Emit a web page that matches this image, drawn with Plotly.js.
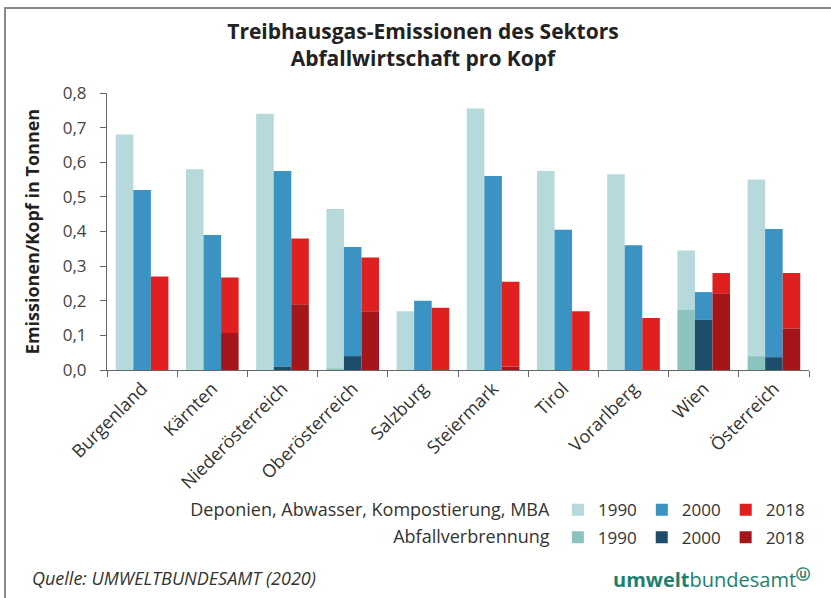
<!DOCTYPE html>
<html>
<head>
<meta charset="utf-8">
<script src="https://cdn.plot.ly/plotly-3.0.1.min.js"></script>
<style>html,body{margin:0;padding:0;background:#fff;}#chart{width:831px;height:598px;}</style>
</head>
<body>
<div id="chart"></div>
<script>
// Categories (Bundesländer)
const categories = ['Burgenland','Kärnten','Niederösterreich','Oberösterreich','Salzburg','Steiermark','Tirol','Vorarlberg','Wien','Österreich'];
// Deponien, Abwasser, Kompostierung, MBA (t/Kopf)
const dep1990 = [0.68, 0.58, 0.74, 0.46, 0.17, 0.755, 0.575, 0.565, 0.17, 0.51];
const dep2000 = [0.52, 0.39, 0.565, 0.315, 0.20, 0.56, 0.405, 0.36, 0.08, 0.37];
const dep2018 = [0.27, 0.16, 0.19, 0.155, 0.18, 0.245, 0.17, 0.15, 0.06, 0.16];
// Abfallverbrennung (t/Kopf)
const av1990 = [0, 0, 0, 0.005, 0, 0, 0, 0, 0.175, 0.04];
const av2000 = [0, 0, 0.01, 0.04, 0, 0, 0, 0, 0.145, 0.037];
const av2018 = [0, 0.107, 0.19, 0.17, 0, 0.01, 0, 0, 0.22, 0.12];
const years = ['1990', '2000', '2018'];
const yTicks = [0, 0.1, 0.2, 0.3, 0.4, 0.5, 0.6, 0.7, 0.8];

const depCols = ['#b6d9db', '#3a93c3', '#e0201f'];
const avCols = ['#8cc3bf', '#1e4d6b', '#a5161b'];
const depSeries = [dep1990, dep2000, dep2018];
const avSeries = [av1990, av2000, av2018];

const traces = [];
years.forEach((yr, i) => {
  traces.push({
    type: 'bar', x: categories, y: depSeries[i], base: avSeries[i],
    name: yr, offsetgroup: yr, legend: 'legend',
    marker: {color: depCols[i], line: {width: 0}}
  });
});
years.forEach((yr, i) => {
  traces.push({
    type: 'bar', x: categories, y: avSeries[i],
    name: yr, offsetgroup: yr, legend: 'legend2',
    marker: {color: avCols[i], line: {width: 0}}
  });
});

const font = "'Open Sans', 'Noto Sans', sans-serif";
const L = 107, R = 809, T = 93, B = 370;
const PX = (px) => (px - L) / (R - L);
const PY = (py) => (B - py) / (B - T);

const layout = {
  width: 831, height: 598,
  margin: {l: L, r: 831 - R, t: T, b: 598 - B},
  paper_bgcolor: '#ffffff', plot_bgcolor: '#ffffff',
  font: {family: font, color: '#333'},
  separators: ', ',
  barmode: 'group', bargap: 0.25, bargroupgap: 0,
  title: {
    text: '<b>Treibhausgas-Emissionen des Sektors<br>Abfallwirtschaft pro Kopf</b>',
    font: {family: font, size: 21, color: '#222'},
    xref: 'container', x: 0.509, xanchor: 'center',
    yref: 'container', y: 0.935, yanchor: 'top'
  },
  xaxis: {
    type: 'category', showline: true, linecolor: '#666', linewidth: 1,
    ticks: 'outside', tickson: 'boundaries', ticklen: 6, tickcolor: '#666',
    tickangle: -45, tickfont: {family: font, size: 18, color: '#333'},
    showgrid: false, zeroline: false
  },
  yaxis: {
    range: [0, 0.8], tickvals: yTicks, tickformat: '.1f',
    showline: true, linecolor: '#666', linewidth: 1,
    ticks: 'outside', ticklen: 6, tickcolor: '#666', ticklabelstandoff: 10,
    tickfont: {family: font, size: 17, color: '#444'},
    showgrid: false, zeroline: false,
    title: {text: '<b>Emissionen/Kopf in Tonnen</b>', font: {family: font, size: 18, color: '#222'}, standoff: 18}
  },
  legend: {
    orientation: 'h', xref: 'container', x: 0.975, xanchor: 'right',
    yref: 'container', y: 0.177, yanchor: 'top',
    font: {family: font, size: 17, color: '#333'},
    title: {text: 'Deponien, Abwasser, Kompostierung, MBA', side: 'left', font: {family: font, size: 18, color: '#333'}},
    traceorder: 'normal', bgcolor: 'rgba(0,0,0,0)', itemclick: false
  },
  legend2: {
    orientation: 'h', xref: 'container', x: 0.975, xanchor: 'right',
    yref: 'container', y: 0.131, yanchor: 'top',
    font: {family: font, size: 17, color: '#333'},
    title: {text: 'Abfallverbrennung', side: 'left', font: {family: font, size: 18, color: '#333'}},
    traceorder: 'normal', bgcolor: 'rgba(0,0,0,0)', itemclick: false
  },
  annotations: [
    {text: '<i>Quelle: UMWELTBUNDESAMT (2020)</i>', xref: 'paper', yref: 'paper',
     x: PX(30), y: PY(578), xanchor: 'left', yanchor: 'middle', showarrow: false,
     font: {family: font, size: 18, color: '#333'}},
    {text: '<b>umwelt</b>bundesamt<sup><b>ⓤ</b></sup>', xref: 'paper', yref: 'paper',
     x: PX(812), y: PY(578), xanchor: 'right', yanchor: 'middle', showarrow: false,
     font: {family: font, size: 20, color: '#1d806f'}}
  ],
  shapes: [
    {type: 'path', xref: 'paper', yref: 'paper',
     path: 'M' + PX(5) + ',' + PY(600) + ' L' + PX(5) + ',' + PY(8) + ' L' + PX(833) + ',' + PY(8),
     line: {color: '#8a8a8a', width: 2}}
  ],
  showlegend: true
};

Plotly.newPlot('chart', traces, layout, {displayModeBar: false, staticPlot: true});
</script>
</body>
</html>
